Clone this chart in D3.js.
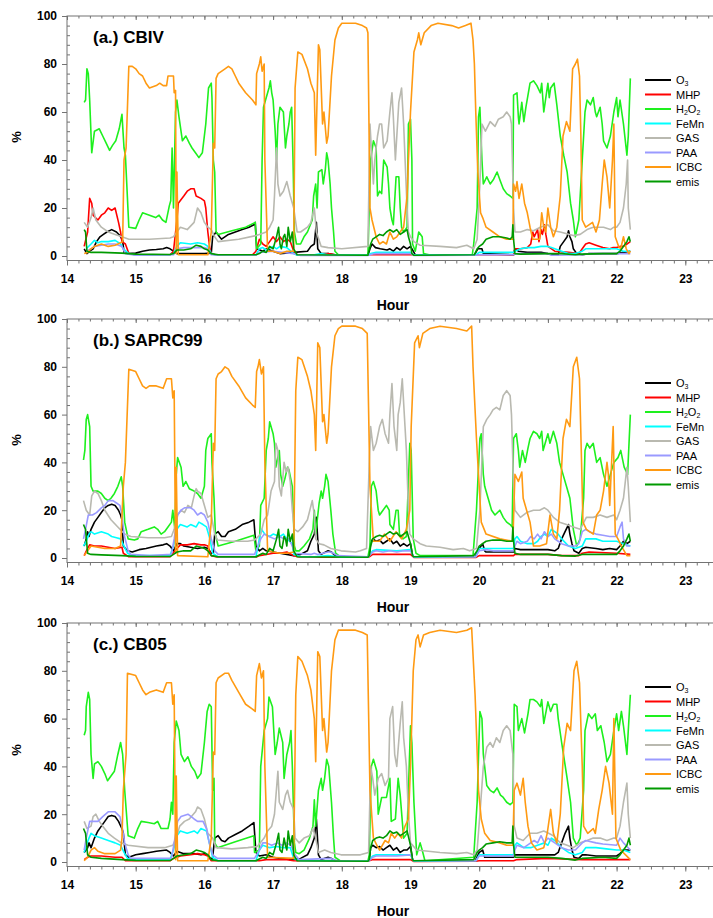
<!DOCTYPE html>
<html>
<head>
<meta charset="utf-8">
<script src="https://cdn.jsdelivr.net/npm/d3@7"></script>
<style>
  body { margin: 0; background: #fff; }
  svg { display: block; font-family: Arial, "Liberation Sans", sans-serif; }
</style>
</head>
<body>
<svg id="chart" width="713" height="918"></svg>
<script>
// Source contributions (%) by hour, one [hour, percent] list per species and mechanism.

// ---- (a.) CBIV ----
const cbivO3 = [[14.25,3],[14.29,1],[14.33,2],[14.38,3],[14.43,6],[14.48,8],[14.53,9],[14.58,10],[14.65,11],[14.72,10],[14.77,8.5],[14.81,6.5],[14.83,1.5],[14.9,1],[15.0,1.2],[15.1,2],[15.2,2.5],[15.3,2.7],[15.4,3],[15.45,3.5],[15.5,3],[15.55,2],[15.6,1],[15.8,1],[16.0,1],[16.1,1.2],[16.12,8],[16.17,10],[16.22,8],[16.25,7],[16.35,9],[16.45,10],[16.55,11],[16.65,12],[16.72,13],[16.74,14],[16.76,3],[16.85,2],[16.9,3],[17.0,2],[17.1,1],[17.3,1.5],[17.5,2],[17.55,4],[17.6,5],[17.63,14],[17.65,3],[17.7,1],[17.8,1],[17.9,0.5],[18.38,0.3],[18.41,3],[18.44,5],[18.49,3.5],[18.56,3],[18.66,2.5],[18.7,3],[18.75,2],[18.8,3.5],[18.85,2.5],[18.9,4],[18.95,3],[19.0,4],[19.04,2],[19.07,0.5],[19.93,0.5],[19.98,3],[20.04,3],[20.06,1],[20.5,0.5],[20.52,3],[20.57,2],[20.7,1.5],[20.9,1.5],[21.0,1],[21.15,0.5],[21.18,4],[21.23,6],[21.28,8],[21.3,10.5],[21.32,8],[21.35,6],[21.37,3],[21.42,1],[21.5,0.5],[21.6,1],[22.0,1],[22.1,1.5],[22.2,2]];
const cbivMHP = [[14.25,4],[14.3,10],[14.33,24],[14.36,22],[14.38,17],[14.45,15],[14.5,17],[14.55,18],[14.6,20],[14.65,19],[14.7,20],[14.75,14],[14.78,10],[14.8,6],[14.85,5],[14.9,1],[15.0,0.5],[15.5,0.5],[15.55,2],[15.6,15],[15.62,22],[15.7,25],[15.75,27],[15.8,28],[15.85,28],[15.88,25],[15.95,24],[16.0,23],[16.02,20],[16.05,10],[16.08,3],[16.1,1],[16.15,0.5],[16.7,0.5],[16.75,2],[16.8,7],[16.85,5],[16.9,4],[16.95,6],[17.0,8],[17.05,6],[17.1,8],[17.15,6],[17.2,7],[17.25,6],[17.3,2],[17.35,0.5],[17.7,0.5],[17.8,1],[17.9,0.5],[20.5,0.5],[20.52,3],[20.6,3],[20.7,3.5],[20.75,5],[20.78,10],[20.8,8],[20.85,11],[20.87,6],[20.9,11],[20.92,9],[20.95,13],[20.97,9],[21.0,4],[21.1,2],[21.3,1.5],[21.45,1],[21.5,3],[21.55,5],[21.6,5.5],[21.7,4.5],[21.8,3.5],[21.9,3],[21.95,3.5],[22.0,3.5],[22.05,4],[22.1,4],[22.15,5],[22.2,6]];
const cbivH2O2 = [[14.25,64],[14.27,65],[14.29,78],[14.31,76],[14.33,65],[14.36,43],[14.4,52],[14.47,53],[14.52,50],[14.57,47],[14.62,44],[14.66,46],[14.71,48],[14.76,53],[14.8,59],[14.83,45],[14.85,42],[14.9,12],[15.0,11.5],[15.05,15],[15.1,18],[15.2,17],[15.29,16],[15.34,17],[15.39,15],[15.44,14],[15.49,21],[15.51,23],[15.53,45],[15.55,20],[15.58,60],[15.6,65],[15.63,58],[15.68,48],[15.73,50],[15.78,47],[15.82,45],[15.87,43],[15.92,41],[15.97,43],[16.02,55],[16.06,70],[16.1,72],[16.11,66],[16.13,40],[16.15,35],[16.17,10],[16.2,9],[16.4,10.5],[16.6,12],[16.74,14],[16.76,3],[16.82,5],[16.84,40],[16.86,62],[16.94,70],[16.96,73],[16.98,68],[17.0,65],[17.03,52],[17.05,40],[17.07,55],[17.1,62],[17.15,60],[17.18,45],[17.2,50],[17.23,55],[17.25,60],[17.27,62],[17.29,40],[17.31,10],[17.34,5],[17.4,5],[17.45,8],[17.5,10],[17.57,15],[17.59,25],[17.62,30],[17.64,20],[17.66,35],[17.71,36],[17.73,30],[17.76,36],[17.78,43],[17.8,40],[17.83,30],[17.85,20],[17.88,10],[17.9,2],[17.95,0.5],[18.38,0.5],[18.39,10],[18.42,40],[18.46,48],[18.5,45],[18.52,25],[18.55,27],[18.58,26],[18.61,40],[18.66,37],[18.68,30],[18.7,20],[18.73,15],[18.75,13],[18.79,33],[18.83,33],[18.85,20],[18.87,12],[18.9,10],[18.95,12],[18.97,55],[19.0,57],[19.02,40],[19.03,5],[19.07,2],[19.12,10],[19.17,8],[19.19,1],[19.3,0.3],[19.9,0.5],[19.92,5],[19.97,20],[19.99,58],[20.01,62],[20.04,40],[20.06,30],[20.11,33],[20.16,30],[20.21,32],[20.26,35],[20.31,31],[20.35,28],[20.4,26],[20.45,25],[20.49,24],[20.5,67],[20.55,68],[20.57,58],[20.58,55],[20.62,64],[20.65,56],[20.68,62],[20.74,72],[20.79,73],[20.84,71],[20.89,68],[20.91,72],[20.94,60],[21.0,72],[21.02,66],[21.04,70],[21.09,72],[21.13,63],[21.18,50],[21.23,42],[21.28,35],[21.33,22],[21.37,15],[21.4,8],[21.45,15],[21.5,40],[21.54,60],[21.57,65],[21.62,63],[21.66,66],[21.69,60],[21.71,58],[21.76,62],[21.79,55],[21.81,48],[21.86,45],[21.91,50],[21.96,60],[22.0,66],[22.02,58],[22.05,65],[22.1,55],[22.15,42],[22.17,50],[22.2,74]];
const cbivFeMn = [[14.28,3],[14.35,5],[14.4,6.5],[14.45,5.5],[14.5,6],[14.6,6],[14.7,6.5],[14.78,5],[14.82,3],[14.9,1],[15.0,0.5],[15.5,0.5],[15.55,1],[15.6,4],[15.65,5.5],[15.8,5],[15.9,5.5],[16.0,5],[16.05,4],[16.1,1],[16.15,0.5],[16.75,0.5],[16.8,3],[16.85,3.5],[16.9,2.5],[17.0,4],[17.05,3],[17.1,4],[17.2,3.5],[17.3,1],[17.35,0.3],[17.6,0.5],[17.7,1],[17.8,0.5],[18.38,0.3],[18.42,1],[18.5,1.5],[19.0,1.5],[19.05,0.5],[19.95,0.5],[20.0,1.5],[20.5,1.5],[20.52,2],[20.6,3],[20.7,3.5],[20.8,3.5],[20.9,4],[21.0,4],[21.05,3.5],[21.1,3],[21.2,2],[21.3,1],[21.4,1],[21.5,2],[21.55,3],[21.7,3],[21.8,3],[22.0,3],[22.1,2],[22.2,2]];
const cbivGAS = [[14.25,14],[14.3,12],[14.35,16],[14.38,20],[14.42,15],[14.5,12],[14.6,10],[14.7,9],[14.8,8],[14.9,7],[15.2,7],[15.5,7.5],[15.55,8],[15.6,10],[15.65,12],[15.75,11],[15.85,14],[15.9,20],[15.95,18],[16.0,14],[16.05,12],[16.1,11],[16.15,8],[16.2,6],[16.5,7],[16.75,8.5],[16.8,9],[16.9,10],[16.95,12],[17.0,15],[17.02,25],[17.05,45],[17.07,30],[17.1,25],[17.15,27],[17.2,31],[17.25,25],[17.3,20],[17.35,10],[17.4,10],[17.5,12],[17.55,14],[17.6,20],[17.63,10],[17.7,4],[17.8,3.5],[18.0,3],[18.38,4],[18.41,55],[18.43,45],[18.46,30],[18.48,40],[18.52,50],[18.55,55],[18.58,55],[18.61,45],[18.66,48],[18.7,60],[18.73,68],[18.75,58],[18.78,40],[18.83,64],[18.87,70],[18.9,55],[18.95,20],[18.97,10],[19.0,8],[19.05,6],[19.14,4.5],[19.43,4],[19.67,3.5],[19.82,4.5],[19.92,3],[19.97,7],[20.01,30],[20.04,55],[20.09,52],[20.16,56],[20.23,54],[20.28,57],[20.35,58],[20.4,60],[20.45,58],[20.47,55],[20.5,20],[20.52,10],[20.6,10],[20.7,11],[20.79,10.5],[20.89,12],[21.0,13],[21.08,10.5],[21.18,10],[21.37,8.5],[21.47,9],[21.57,11],[21.66,12],[21.81,12],[21.91,11],[21.96,12],[22.0,12],[22.05,14],[22.1,20],[22.14,30],[22.16,40],[22.17,20],[22.2,11]];
const cbivPAA = [[14.28,2],[14.35,3],[14.4,4],[14.5,4.5],[14.6,5],[14.7,5],[14.8,4],[14.85,1],[15.0,0.3],[15.55,0.5],[15.6,3],[15.7,3.5],[15.9,3.5],[16.0,3.5],[16.05,3],[16.1,0.5],[16.75,0.3],[16.8,1.5],[17.0,2],[17.3,1],[17.4,0.2],[18.38,0.2],[18.45,0.8],[18.5,1],[19.0,1],[19.05,0.2],[19.95,0.3],[20.0,0.5],[20.5,0.5],[20.55,1],[21.0,1],[21.05,0.3],[21.5,0.5],[21.6,1],[22.2,1]];
const cbivICBC = [[14.25,1],[14.3,1.5],[14.35,3],[14.4,4],[14.5,5],[14.6,4],[14.7,4.5],[14.78,5.5],[14.81,6],[14.83,40],[14.86,45],[14.9,79],[14.95,79],[15.0,78],[15.05,76],[15.1,75],[15.15,72],[15.2,70],[15.3,71],[15.35,72],[15.4,71],[15.45,71],[15.47,75],[15.55,75],[15.56,68],[15.58,69],[15.59,1],[15.6,35],[15.62,0.5],[16.05,0.5],[16.1,10],[16.13,47],[16.15,45],[16.17,74],[16.2,76],[16.3,78],[16.35,79],[16.4,78],[16.45,75],[16.5,72],[16.6,68],[16.7,65],[16.75,63],[16.76,76],[16.8,80],[16.82,83],[16.84,77],[16.87,80],[16.88,40],[16.92,2],[17.0,2],[17.1,1],[17.2,2],[17.3,2],[17.32,70],[17.36,85],[17.42,84],[17.5,78],[17.55,72],[17.6,68],[17.62,42],[17.66,88],[17.68,86],[17.72,55],[17.74,60],[17.78,47],[17.8,50],[17.85,75],[17.9,90],[17.95,95],[18.0,97],[18.2,97],[18.3,96],[18.36,95],[18.38,93],[18.41,20],[18.44,15],[18.5,8],[18.55,5],[18.6,6],[18.65,5],[18.7,10],[18.75,7],[18.8,8],[18.85,10],[18.9,12],[18.95,25],[18.97,40],[19.0,60],[19.05,85],[19.1,90],[19.12,93],[19.15,88],[19.2,93],[19.3,96],[19.4,97],[19.6,96],[19.7,95],[19.8,96],[19.88,97],[19.91,90],[19.93,80],[19.95,60],[19.98,35],[20.02,18],[20.05,16],[20.1,12],[20.2,10],[20.3,8],[20.4,7],[20.49,7],[20.5,30],[20.53,27],[20.55,31],[20.58,24],[20.62,30],[20.66,22],[20.7,18],[20.74,12],[20.78,7],[20.88,7],[20.91,18],[20.94,12],[20.97,10],[21.0,20],[21.04,12],[21.08,8],[21.13,12],[21.18,25],[21.22,50],[21.27,56],[21.32,52],[21.36,78],[21.4,80],[21.43,82],[21.46,75],[21.48,50],[21.5,15],[21.55,12],[21.65,14],[21.7,10],[21.75,15],[21.79,30],[21.82,40],[21.86,33],[21.9,20],[21.94,40],[21.96,55],[21.98,8],[22.03,4],[22.06,3],[22.1,8],[22.14,3],[22.18,1],[22.2,2]];
const cbivEmis = [[14.25,11],[14.27,10],[14.29,2],[14.35,1.5],[14.5,1.5],[14.8,1.2],[14.9,1],[15.0,0.8],[15.5,0.6],[15.55,1],[15.6,2.5],[15.7,2.5],[15.8,3],[15.88,4.5],[15.95,4],[16.0,3],[16.05,2.5],[16.1,1],[16.2,0.5],[16.75,0.5],[16.8,1],[16.85,2],[16.9,1.5],[16.95,4],[17.0,3],[17.05,8],[17.08,12],[17.1,5],[17.12,3],[17.15,8],[17.17,9],[17.2,4],[17.22,12],[17.25,6],[17.28,10],[17.3,3],[17.35,0.5],[18.38,0.3],[18.42,5],[18.45,7],[18.5,8],[18.55,9],[18.6,8.5],[18.65,10],[18.7,11],[18.75,10],[18.8,11],[18.85,9],[18.9,10],[18.95,11],[18.97,8],[19.0,5],[19.02,1],[19.05,0.3],[19.93,0.5],[19.97,3],[20.0,4],[20.05,5],[20.1,7],[20.15,7.5],[20.2,8],[20.3,8],[20.4,7.5],[20.45,7],[20.48,8],[20.49,13],[20.5,7],[20.52,1],[20.6,0.8],[21.0,1],[21.2,1],[21.4,0.5],[21.5,0.8],[21.8,1],[22.0,1],[22.05,2],[22.1,4],[22.15,6],[22.18,8],[22.2,6]];

// ---- (b.) SAPRC99 ----
const sapO3 = [[14.25,5],[14.28,8],[14.3,11],[14.32,9],[14.35,12],[14.4,15],[14.45,17],[14.5,19],[14.55,21],[14.6,22],[14.65,22.5],[14.7,22],[14.75,20],[14.78,18],[14.8,16],[14.82,5],[14.88,3],[14.95,2.5],[15.05,3.5],[15.15,4],[15.3,5],[15.4,5.5],[15.45,6],[15.5,5],[15.55,3],[15.6,6],[15.65,6],[15.7,5],[15.8,4.5],[15.9,4],[16.0,4.5],[16.05,4],[16.1,2],[16.13,2],[16.15,10],[16.2,11],[16.25,9],[16.3,9],[16.35,11],[16.45,12],[16.55,14],[16.65,15],[16.72,16],[16.75,5],[16.8,3],[16.85,4],[16.9,3],[17.0,2.5],[17.1,2],[17.2,1.5],[17.3,1],[17.4,1.5],[17.5,3],[17.55,7],[17.6,10],[17.63,17],[17.66,3],[17.7,1.5],[17.8,3],[17.85,2.5],[17.9,1],[18.0,0.3],[18.38,0.3],[18.4,1],[18.42,6],[18.45,8],[18.5,7],[18.55,7.5],[18.6,6],[18.65,7],[18.7,8],[18.75,6],[18.8,7],[18.85,5],[18.9,6],[18.95,5],[19.0,6],[19.03,1],[19.06,0.3],[19.93,0.3],[19.95,1],[20.0,4],[20.05,6],[20.08,3],[20.1,2.5],[20.5,2.5],[20.52,4],[20.6,3.5],[20.8,3.5],[21.0,3.5],[21.1,3],[21.15,4],[21.2,8],[21.25,11],[21.3,14],[21.32,10],[21.35,6],[21.38,3],[21.45,2],[21.5,4],[21.55,4.5],[21.7,4],[21.8,3.5],[21.9,4],[22.0,3.5],[22.05,5],[22.1,7],[22.15,6],[22.2,7]];
const sapMHP = [[14.25,1],[14.3,4],[14.33,5.5],[14.4,5],[14.5,5],[14.6,4.5],[14.7,4],[14.8,4.5],[14.82,2],[14.9,0.5],[15.5,0.5],[15.6,4],[15.65,5.5],[15.75,5.5],[15.85,6],[15.95,5.5],[16.0,5.5],[16.05,5],[16.1,1],[16.2,0.3],[16.75,0.3],[16.8,1],[16.9,1.5],[17.0,2],[17.1,2],[17.2,2.5],[17.3,1],[17.4,0.3],[18.38,0.3],[18.4,0.5],[18.45,1.5],[19.0,1.5],[19.05,0.2],[19.95,0.2],[20.0,1],[20.5,1],[20.52,1.5],[21.0,1.5],[21.2,1],[21.45,1],[21.5,2],[21.6,2.5],[22.0,2],[22.2,1.5]];
const sapH2O2 = [[14.24,41],[14.26,45],[14.28,58],[14.3,60],[14.33,55],[14.35,30],[14.38,28],[14.45,28],[14.5,27],[14.55,25],[14.6,24],[14.64,25],[14.69,27],[14.74,30],[14.79,34],[14.81,30],[14.84,15],[14.89,8],[14.98,7.5],[15.03,8],[15.08,11],[15.18,12],[15.27,13],[15.32,12],[15.37,10],[15.42,11],[15.47,13],[15.52,15],[15.54,20],[15.57,12],[15.59,35],[15.61,42],[15.66,38],[15.69,30],[15.73,32],[15.78,29],[15.85,28],[15.9,27],[15.95,25],[16.0,30],[16.02,45],[16.05,50],[16.1,52],[16.11,40],[16.14,25],[16.16,10],[16.2,5],[16.45,7],[16.72,9.5],[16.75,3],[16.8,5],[16.82,22],[16.87,25],[16.9,45],[16.93,50],[16.95,57],[17.0,52],[17.02,48],[17.04,38],[17.09,45],[17.11,35],[17.14,30],[17.17,33],[17.21,38],[17.23,37],[17.28,30],[17.31,5],[17.33,3],[17.38,3],[17.45,5],[17.53,8],[17.58,12],[17.6,20],[17.62,10],[17.67,23],[17.7,28],[17.72,25],[17.75,30],[17.77,35],[17.8,32],[17.84,20],[17.87,10],[17.91,2],[17.98,0.5],[18.38,0.5],[18.41,5],[18.43,30],[18.46,32],[18.5,28],[18.53,20],[18.55,18],[18.6,20],[18.65,22],[18.69,20],[18.7,14],[18.75,12],[18.79,20],[18.82,20],[18.84,10],[18.89,8],[18.94,9],[18.99,48],[19.01,45],[19.04,8],[19.08,2],[19.14,1],[19.91,1],[19.96,20],[20.01,50],[20.03,52],[20.06,35],[20.08,30],[20.13,25],[20.18,20],[20.23,18],[20.3,20],[20.35,17],[20.4,15],[20.45,14],[20.48,13],[20.5,50],[20.54,52],[20.57,45],[20.59,38],[20.63,45],[20.67,40],[20.71,46],[20.74,50],[20.79,53],[20.84,52],[20.88,50],[20.91,53],[20.93,45],[21.0,52],[21.03,48],[21.08,53],[21.13,48],[21.17,40],[21.22,35],[21.27,30],[21.32,25],[21.37,12],[21.42,5],[21.47,8],[21.52,25],[21.54,45],[21.57,48],[21.61,46],[21.66,48],[21.71,40],[21.76,42],[21.81,35],[21.86,30],[21.91,35],[21.96,40],[22.02,42],[22.06,45],[22.11,38],[22.16,35],[22.2,60]];
const sapFeMn = [[14.24,5],[14.28,7],[14.32,10],[14.35,11],[14.4,10],[14.5,11],[14.6,10],[14.65,9],[14.72,8.5],[14.78,8],[14.83,5],[14.88,2],[14.95,1],[15.5,1],[15.55,5],[15.6,12],[15.65,14],[15.75,13],[15.8,14],[15.88,13],[15.92,15],[15.98,14],[16.03,13],[16.08,8],[16.12,2],[16.2,0.5],[16.75,0.5],[16.8,8],[16.83,12],[16.88,10],[16.95,9],[17.0,10],[17.1,9],[17.15,10],[17.2,8],[17.28,6],[17.3,1.5],[17.4,0.5],[17.6,0.5],[17.8,1],[18.0,0.3],[18.38,0.3],[18.4,1],[18.45,3],[18.5,3.5],[18.8,3],[19.0,3.5],[19.05,0.3],[19.95,0.5],[20.0,4],[20.1,4],[20.5,4],[20.52,8],[20.55,9],[20.6,7],[20.7,6],[20.8,6],[20.85,7],[20.9,9],[20.95,10],[21.0,9],[21.05,12],[21.1,11],[21.15,10],[21.2,8],[21.3,5],[21.4,4],[21.5,5],[21.55,8],[21.7,8],[21.8,7],[22.0,7],[22.1,6],[22.2,5]];
const sapGAS = [[14.24,24],[14.28,20],[14.33,18],[14.36,26],[14.4,28],[14.45,27],[14.5,24],[14.55,20],[14.64,16],[14.74,13],[14.84,10],[14.93,9],[15.18,8.5],[15.42,8.5],[15.52,9],[15.56,12],[15.61,18],[15.66,20],[15.71,19],[15.76,22],[15.81,21],[15.85,26],[15.88,29],[15.9,28],[15.95,27],[16.0,22],[16.02,20],[16.05,17],[16.1,18],[16.15,10],[16.19,7.5],[16.4,7],[16.63,7],[16.73,7.5],[16.82,10],[16.87,16],[16.92,18],[16.94,22],[16.97,28],[17.02,32],[17.04,48],[17.07,45],[17.09,30],[17.12,26],[17.14,33],[17.16,40],[17.19,36],[17.22,38],[17.25,32],[17.28,20],[17.31,12],[17.36,11],[17.43,13],[17.5,16],[17.57,24],[17.6,18],[17.62,8],[17.67,6],[17.74,5.5],[17.84,4],[17.99,3],[18.2,2.5],[18.27,3],[18.36,4],[18.4,40],[18.42,55],[18.46,45],[18.5,48],[18.55,55],[18.59,58],[18.63,52],[18.68,48],[18.7,60],[18.73,73],[18.76,55],[18.8,45],[18.82,60],[18.85,65],[18.88,75],[18.92,55],[18.94,45],[18.97,20],[18.99,10],[19.04,8],[19.14,6],[19.23,5],[19.43,4.5],[19.62,3.5],[19.77,4],[19.86,3],[19.96,4],[20.01,20],[20.06,55],[20.11,58],[20.16,60],[20.2,62],[20.25,63],[20.3,62],[20.35,68],[20.4,70],[20.45,68],[20.47,60],[20.5,30],[20.52,20],[20.6,17],[20.69,19],[20.79,20],[20.88,20],[20.95,21],[21.0,20],[21.08,17],[21.17,15],[21.27,14],[21.37,13],[21.47,12],[21.56,17],[21.66,17],[21.76,18],[21.86,17],[21.96,18],[22.0,16],[22.05,20],[22.1,25],[22.15,38],[22.17,30],[22.2,15]];
const sapPAA = [[14.24,8],[14.27,12],[14.31,18],[14.37,18],[14.43,19],[14.5,21],[14.55,22],[14.6,24],[14.67,24],[14.72,23],[14.77,22],[14.8,18],[14.83,10],[14.89,3],[14.93,1.5],[15.2,1],[15.52,1.5],[15.56,8],[15.61,18],[15.66,20],[15.71,21],[15.8,21],[15.85,20],[15.9,18],[15.95,19],[16.0,18],[16.05,15],[16.1,8],[16.15,3],[16.2,1.5],[16.73,1.5],[16.78,5],[16.82,8],[16.87,10],[16.94,9],[17.02,8],[17.09,9],[17.16,8],[17.23,8],[17.28,5],[17.31,2],[17.55,1.5],[17.6,2],[17.65,1.5],[17.8,2.5],[17.84,2.5],[17.94,1],[18.38,0.5],[18.4,1],[18.45,2.5],[18.5,3],[18.6,2.5],[18.7,3],[18.8,2.5],[18.9,3],[19.0,3],[19.05,0.5],[19.95,0.5],[20.0,3],[20.1,3.5],[20.2,3],[20.5,3],[20.52,5],[20.55,7],[20.6,6],[20.7,7],[20.75,9],[20.8,8],[20.85,10],[20.9,8],[20.95,11],[21.0,9],[21.05,10],[21.1,8],[21.15,7],[21.2,6],[21.3,5],[21.4,5],[21.45,6],[21.5,11],[21.55,12],[21.6,11],[21.7,10],[21.8,9.5],[21.9,9],[22.0,9],[22.05,13],[22.08,15],[22.1,8],[22.15,5],[22.2,5]];
const sapICBC = [[14.25,1],[14.3,3],[14.35,5],[14.45,4.5],[14.55,4],[14.7,4],[14.78,5],[14.82,30],[14.85,40],[14.9,79],[15.0,78],[15.05,75],[15.1,72],[15.15,71],[15.2,72],[15.3,72],[15.4,71],[15.45,75],[15.52,75],[15.54,67],[15.56,70],[15.58,2],[15.59,38],[15.61,1],[16.05,0.5],[16.1,15],[16.13,48],[16.15,45],[16.17,75],[16.2,77],[16.25,78],[16.3,80],[16.35,79],[16.4,76],[16.5,72],[16.6,67],[16.7,64],[16.74,63],[16.76,78],[16.78,80],[16.8,83],[16.83,77],[16.86,80],[16.88,40],[16.92,3],[17.0,2.5],[17.1,2],[17.2,2],[17.3,2.5],[17.33,70],[17.36,84],[17.42,83],[17.5,76],[17.55,70],[17.6,60],[17.62,45],[17.65,90],[17.68,88],[17.72,57],[17.74,60],[17.78,48],[17.8,52],[17.85,80],[17.9,93],[17.95,96],[18.0,97],[18.2,97],[18.3,96],[18.37,94],[18.41,30],[18.46,7],[18.55,7],[18.62,10],[18.7,7],[18.79,11],[18.87,8],[18.94,12],[18.99,20],[19.01,55],[19.06,90],[19.11,93],[19.13,88],[19.18,94],[19.28,96],[19.43,97],[19.67,96],[19.82,95],[19.89,97],[19.91,80],[19.96,50],[20.01,25],[20.03,15],[20.1,10],[20.3,8],[20.49,7],[20.52,35],[20.57,32],[20.62,36],[20.64,25],[20.69,20],[20.74,15],[20.79,5],[20.88,5],[20.98,6],[21.03,18],[21.08,10],[21.13,8],[21.17,20],[21.22,50],[21.27,58],[21.32,55],[21.37,80],[21.42,84],[21.46,75],[21.49,40],[21.51,15],[21.56,12],[21.66,10],[21.71,18],[21.76,20],[21.81,28],[21.86,40],[21.88,35],[21.9,22],[21.95,55],[21.98,10],[22.02,8],[22.07,5],[22.15,1],[22.2,1]];
const sapEmis = [[14.24,14],[14.27,12],[14.3,2],[14.35,1.5],[14.5,1.3],[14.8,1],[15.0,0.7],[15.5,0.6],[15.55,1.5],[15.6,2.5],[15.7,3],[15.8,3],[15.88,5],[15.95,4.5],[16.0,4],[16.05,3],[16.1,1],[16.2,0.5],[16.75,0.5],[16.85,2],[16.9,1.5],[16.95,4],[17.0,3],[17.05,8],[17.08,12],[17.1,5],[17.13,4],[17.16,9],[17.18,8],[17.2,5],[17.22,12],[17.25,7],[17.28,10],[17.3,3],[17.35,0.5],[18.38,0.3],[18.4,1],[18.42,5],[18.45,8],[18.5,9],[18.55,9.5],[18.6,9],[18.65,10],[18.7,11],[18.75,10],[18.8,10.5],[18.85,9],[18.9,10],[18.95,11],[19.0,6],[19.03,1],[19.05,0.5],[19.92,1],[19.97,3],[20.0,5],[20.05,6],[20.1,7],[20.2,7.5],[20.3,7.5],[20.4,7],[20.48,7],[20.49,13],[20.5,7],[20.52,2],[20.6,1.5],[21.0,1.5],[21.2,1],[21.4,0.8],[21.5,1.5],[21.8,1.5],[22.0,1.5],[22.05,3],[22.1,5],[22.15,8],[22.18,10],[22.2,7]];

// ---- (c.) CB05 ----
const cb05O3 = [[14.25,4],[14.3,6],[14.32,8],[14.35,6],[14.4,10],[14.45,13],[14.5,15],[14.55,17],[14.6,19],[14.65,19.5],[14.7,19],[14.75,17],[14.8,14],[14.82,12],[14.85,3],[14.9,2],[15.0,3],[15.1,3.5],[15.2,4],[15.3,4.5],[15.45,5],[15.5,4],[15.55,2.5],[15.6,4.5],[15.65,4],[15.7,3.5],[15.85,3.5],[15.95,3],[16.0,3.5],[16.05,3],[16.1,1],[16.12,2],[16.15,10],[16.2,11],[16.25,9],[16.3,8.5],[16.35,10],[16.45,11.5],[16.55,13],[16.65,15],[16.72,16.5],[16.75,4],[16.8,2.5],[16.9,3],[17.0,2],[17.1,1.5],[17.3,1],[17.4,1.5],[17.5,3],[17.55,6],[17.6,10],[17.63,18],[17.66,3],[17.7,1],[17.8,2],[17.85,1.5],[17.9,0.5],[18.38,0.3],[18.4,1],[18.42,6],[18.45,7],[18.5,6],[18.55,6.5],[18.6,5],[18.65,6],[18.7,7],[18.75,5],[18.8,6],[18.85,4],[18.9,5],[18.95,5],[19.0,6.5],[19.03,1],[19.06,0.3],[19.93,0.3],[19.95,1],[20.0,4],[20.05,5],[20.08,2],[20.5,2],[20.52,3],[20.6,3],[20.8,3],[21.0,3],[21.1,3],[21.15,4],[21.2,8],[21.25,12],[21.3,15],[21.32,10],[21.35,5],[21.38,2],[21.45,1.5],[21.5,3],[21.55,3],[21.7,2.5],[21.9,2.5],[22.0,2.5],[22.05,3.5],[22.1,5],[22.2,5]];
const cb05MHP = [[14.25,1],[14.3,2],[14.35,2.5],[14.5,2.5],[14.7,2],[14.8,2],[14.85,0.5],[15.5,0.5],[15.55,1.5],[15.65,2.5],[15.8,3],[15.9,3.5],[16.0,3],[16.05,2.5],[16.1,0.5],[16.8,0.5],[16.9,1],[17.2,1],[17.3,0.5],[18.38,0.3],[18.45,1],[19.0,1],[19.05,0.2],[19.95,0.3],[20.0,0.5],[20.5,0.5],[20.55,1],[21.0,1.5],[21.5,1],[22.0,1],[22.2,1]];
const cb05H2O2 = [[14.25,53],[14.27,55],[14.28,65],[14.31,71],[14.33,68],[14.35,45],[14.38,35],[14.4,41],[14.45,42],[14.5,40],[14.55,37],[14.59,34],[14.64,36],[14.69,38],[14.74,45],[14.78,50],[14.81,45],[14.84,30],[14.89,11],[14.98,10],[15.03,14],[15.08,17],[15.18,16.5],[15.27,16],[15.32,17],[15.37,14],[15.47,14],[15.5,18],[15.52,25],[15.54,20],[15.56,50],[15.59,59],[15.63,55],[15.66,45],[15.71,42],[15.76,44],[15.81,40],[15.86,38],[15.9,35],[15.95,37],[16.0,50],[16.04,63],[16.07,66],[16.1,65],[16.12,30],[16.14,35],[16.15,8],[16.19,6],[16.45,8.5],[16.72,11],[16.73,4],[16.8,5],[16.82,40],[16.87,55],[16.92,60],[16.94,69],[16.99,65],[17.03,45],[17.06,50],[17.09,56],[17.14,50],[17.16,35],[17.2,45],[17.24,50],[17.26,55],[17.28,40],[17.31,8],[17.33,4],[17.38,3.5],[17.45,5],[17.53,10],[17.58,15],[17.6,26],[17.62,15],[17.66,30],[17.7,35],[17.72,30],[17.75,35],[17.78,43],[17.81,40],[17.85,25],[17.88,10],[17.9,2],[17.98,0.5],[18.38,0.5],[18.4,3],[18.43,40],[18.46,43],[18.51,38],[18.53,20],[18.58,27],[18.65,27],[18.7,35],[18.72,17],[18.78,18],[18.82,35],[18.85,28],[18.9,10],[18.95,12],[19.0,57],[19.02,50],[19.05,25],[19.09,3],[19.14,8],[19.17,5],[19.21,0.5],[19.92,2],[19.97,25],[20.01,63],[20.04,60],[20.06,45],[20.11,32],[20.16,30],[20.21,29],[20.26,31],[20.31,28],[20.35,27],[20.4,25],[20.45,24],[20.49,25],[20.51,66],[20.55,65],[20.57,55],[20.62,60],[20.66,54],[20.71,62],[20.74,68],[20.79,68],[20.84,67],[20.89,65],[20.91,68],[20.94,58],[21.0,67],[21.04,63],[21.08,66],[21.13,66],[21.15,60],[21.2,50],[21.28,35],[21.33,25],[21.37,10],[21.42,7],[21.47,10],[21.52,30],[21.54,55],[21.59,62],[21.64,60],[21.69,62],[21.72,55],[21.77,57],[21.82,50],[21.86,42],[21.91,45],[21.96,55],[22.0,62],[22.03,55],[22.07,63],[22.1,57],[22.15,45],[22.17,55],[22.2,70]];
const cb05FeMn = [[14.25,4],[14.28,7],[14.32,10],[14.35,12],[14.4,11],[14.5,10],[14.55,9.5],[14.6,9],[14.7,8],[14.78,7],[14.83,4],[14.88,1.5],[15.0,1],[15.5,1],[15.55,5],[15.6,11],[15.65,13],[15.75,12],[15.85,13],[15.9,12],[15.95,14],[16.03,13],[16.08,7],[16.12,2],[16.2,0.5],[16.75,0.5],[16.8,5],[16.85,7],[16.95,6],[17.05,6.5],[17.15,6],[17.25,6],[17.3,1.5],[17.4,0.5],[17.8,0.5],[18.38,0.3],[18.4,1],[18.45,2.5],[18.5,3],[18.8,3],[19.0,3],[19.05,0.3],[19.95,0.5],[20.0,3],[20.5,3],[20.52,7],[20.55,8],[20.65,6],[20.75,6],[20.85,7],[20.95,8],[21.0,7],[21.05,10],[21.1,9],[21.2,6],[21.3,4],[21.4,3],[21.5,4],[21.55,6],[21.7,6],[21.85,5.5],[22.0,5],[22.1,5],[22.2,4]];
const cb05GAS = [[14.25,17],[14.29,14],[14.35,15],[14.38,19],[14.42,20],[14.47,17],[14.52,15],[14.6,12],[14.69,10],[14.79,8],[14.89,7],[15.18,6],[15.42,6],[15.54,7],[15.59,10],[15.64,15],[15.71,17],[15.78,18],[15.87,21],[15.9,23],[15.95,22],[16.0,18],[16.05,12],[16.12,10],[16.17,6],[16.4,5.5],[16.63,6],[16.77,6.5],[16.87,10],[16.92,13],[16.98,15],[17.02,20],[17.07,38],[17.09,25],[17.14,22],[17.18,28],[17.21,30],[17.25,25],[17.3,22],[17.32,10],[17.38,8],[17.45,10],[17.53,11],[17.58,14],[17.62,10],[17.66,4],[17.75,5],[17.84,4],[17.99,3],[18.27,3],[18.39,4],[18.42,40],[18.45,35],[18.48,28],[18.53,35],[18.58,37],[18.63,32],[18.68,35],[18.7,60],[18.74,65],[18.77,45],[18.8,40],[18.85,58],[18.88,67],[18.9,52],[18.94,40],[18.97,20],[19.0,8],[19.09,5],[19.43,4],[19.67,3.5],[19.82,4],[19.92,3],[19.97,5],[20.01,20],[20.06,40],[20.11,48],[20.16,50],[20.2,48],[20.25,52],[20.3,50],[20.35,55],[20.4,57],[20.45,55],[20.49,45],[20.51,15],[20.55,10],[20.64,9],[20.74,12],[20.84,12],[20.94,13],[21.01,12],[21.08,11],[21.18,8],[21.28,7],[21.37,6],[21.47,8],[21.57,9],[21.66,10],[21.76,10],[21.86,9],[21.96,10],[22.0,10],[22.05,15],[22.1,25],[22.15,33],[22.17,20],[22.2,10]];
const cb05PAA = [[14.25,5],[14.28,10],[14.33,17],[14.38,17],[14.45,17],[14.52,19],[14.6,21],[14.7,21],[14.77,19],[14.8,15],[14.84,8],[14.89,3],[14.93,1.5],[15.52,1.5],[15.56,8],[15.61,17],[15.66,19],[15.76,20],[15.85,18],[15.9,17],[15.98,17],[16.03,14],[16.07,8],[16.12,3],[16.19,1.5],[16.73,1.5],[16.8,5],[16.85,8],[16.9,8],[16.98,7],[17.06,8],[17.13,7],[17.19,8],[17.26,7],[17.32,3],[17.38,1],[17.84,1.5],[17.94,0.5],[18.38,0.3],[18.4,0.5],[18.45,2],[18.5,2.5],[18.8,2.5],[19.0,3],[19.05,0.5],[19.95,0.5],[20.0,2.5],[20.5,2.5],[20.52,5],[20.55,7],[20.65,6],[20.75,8],[20.8,9],[20.85,8],[20.9,11],[20.95,8],[21.0,10],[21.05,9],[21.1,8],[21.2,6],[21.3,5],[21.4,5],[21.5,8],[21.55,9],[21.7,8],[21.8,7.5],[22.0,7],[22.05,10],[22.1,8],[22.2,5]];
const cb05ICBC = [[14.25,0.5],[14.3,2],[14.35,5],[14.4,6],[14.45,4.5],[14.55,3.5],[14.7,3.5],[14.78,5],[14.8,10],[14.82,30],[14.86,45],[14.88,79],[15.0,78],[15.05,75],[15.1,72],[15.15,70],[15.2,71],[15.3,72],[15.4,71],[15.45,75],[15.52,75],[15.54,66],[15.56,70],[15.58,1],[15.59,36],[15.61,0.5],[16.05,0.5],[16.1,10],[16.13,46],[16.15,45],[16.17,75],[16.2,77],[16.3,79],[16.35,79],[16.4,76],[16.5,71],[16.6,66],[16.7,64],[16.74,63],[16.76,78],[16.8,83],[16.83,77],[16.86,80],[16.88,40],[16.92,2],[17.3,1.5],[17.33,70],[17.36,86],[17.42,84],[17.5,78],[17.55,72],[17.6,60],[17.62,42],[17.65,88],[17.68,86],[17.72,55],[17.74,60],[17.78,46],[17.8,50],[17.85,80],[17.9,93],[17.95,97],[18.0,97],[18.2,97],[18.3,96],[18.37,95],[18.41,30],[18.46,10],[18.51,7],[18.55,5],[18.63,9],[18.68,8],[18.72,12],[18.77,10],[18.82,12],[18.87,10],[18.92,15],[18.97,18],[19.0,40],[19.04,80],[19.08,93],[19.11,95],[19.14,90],[19.19,95],[19.28,96],[19.43,97],[19.67,96],[19.82,97],[19.89,98],[19.94,70],[19.99,30],[20.03,18],[20.08,12],[20.16,9],[20.3,8],[20.4,7],[20.49,7],[20.51,30],[20.55,33],[20.6,28],[20.64,35],[20.67,25],[20.71,15],[20.76,8],[20.84,5],[20.94,6],[20.99,12],[21.04,22],[21.08,12],[21.13,8],[21.18,20],[21.23,48],[21.28,58],[21.33,55],[21.38,80],[21.42,84],[21.46,75],[21.5,40],[21.52,15],[21.58,12],[21.66,14],[21.69,12],[21.74,22],[21.79,30],[21.84,40],[21.89,33],[21.94,20],[21.96,60],[21.99,10],[22.06,5],[22.13,3],[22.2,1]];
const cb05Emis = [[14.24,14],[14.27,12],[14.3,3],[14.35,2],[14.5,1.5],[14.8,1],[15.0,0.7],[15.5,0.6],[15.55,1.5],[15.6,2.5],[15.7,3],[15.8,3.5],[15.88,5],[15.95,4.5],[16.0,4],[16.05,3],[16.1,1],[16.2,0.5],[16.75,0.5],[16.85,2],[16.9,1.5],[16.95,4],[17.0,3],[17.05,8],[17.08,12],[17.1,5],[17.13,4],[17.16,10],[17.18,7],[17.2,5],[17.22,13],[17.25,7],[17.28,11],[17.3,3],[17.35,0.5],[18.38,0.3],[18.4,1],[18.42,6],[18.45,9],[18.5,10],[18.55,10.5],[18.6,10],[18.65,11],[18.7,13],[18.75,12],[18.8,12.5],[18.85,11],[18.9,12],[18.95,13],[19.0,7],[19.03,1],[19.05,0.5],[19.92,1],[19.97,4],[20.0,5],[20.05,6],[20.1,7.5],[20.2,8],[20.3,8.5],[20.4,8],[20.48,8],[20.49,15],[20.5,7],[20.52,2],[20.6,2],[21.0,2],[21.2,1.5],[21.4,0.8],[21.5,1.5],[21.8,2],[22.0,1.5],[22.05,3],[22.1,5],[22.15,7],[22.18,10],[22.2,7]];

// Series names, legend labels and axis ticks
const seriesKeys = ["O3", "MHP", "H2O2", "FeMn", "GAS", "PAA", "ICBC", "emis"];
const seriesColors = ["#000000", "#ff0000", "#1ef01e", "#00ffff", "#b9b9b0", "#9a9aff", "#ff9a12", "#009a00"];
const panelTitles = ["(a.) CBIV", "(b.) SAPRC99", "(c.) CB05"];
const panelSeries = [
  [cbivO3, cbivMHP, cbivH2O2, cbivFeMn, cbivGAS, cbivPAA, cbivICBC, cbivEmis],
  [sapO3, sapMHP, sapH2O2, sapFeMn, sapGAS, sapPAA, sapICBC, sapEmis],
  [cb05O3, cb05MHP, cb05H2O2, cb05FeMn, cb05GAS, cb05PAA, cb05ICBC, cb05Emis]
];
const hourTicks = [14, 15, 16, 17, 18, 19, 20, 21, 22, 23];
const percentTicks = [0, 20, 40, 60, 80, 100];

// Layout
const svg = d3.select("#chart");
const plotLeft = 67, plotRight = 754;
const panelTops = [16, 319, 623];
const panelZeros = [256, 558, 862];
const frameColor = "#737373";

const x = d3.scaleLinear().domain([14, 24]).range([plotLeft, plotRight]);
const minorHours = d3.range(14, 24.001, 1 / 6);
const minorPercents = d3.range(0, 100.001, 4).filter(v => v % 20 !== 0);

panelTitles.forEach((title, p) => {
  const top = panelTops[p], zero = panelZeros[p];
  const bottom = zero + 4.5;
  const y = d3.scaleLinear().domain([0, 100]).range([zero, top]);
  const g = svg.append("g");

  // frame
  g.append("rect")
    .attr("x", plotLeft).attr("y", top)
    .attr("width", plotRight - plotLeft).attr("height", bottom - top)
    .attr("fill", "none").attr("stroke", frameColor).attr("stroke-width", 1);

  // bottom axis: minor then major ticks with labels
  const bMinor = g.append("g").attr("transform", `translate(0,${bottom})`)
    .call(d3.axisBottom(x).tickValues(minorHours).tickSize(3).tickFormat(""));
  const bMajor = g.append("g").attr("transform", `translate(0,${bottom})`)
    .call(d3.axisBottom(x).tickValues(hourTicks).tickSize(5).tickPadding(9).tickFormat(d3.format("d")));
  // top axis ticks point inward
  const tMinor = g.append("g").attr("transform", `translate(0,${top})`)
    .call(d3.axisTop(x).tickValues(minorHours).tickSize(-2.5).tickFormat(""));
  const tMajor = g.append("g").attr("transform", `translate(0,${top})`)
    .call(d3.axisTop(x).tickValues(hourTicks).tickSize(-4).tickFormat(""));
  // left axis: major outward with labels, minor inward
  const lMajor = g.append("g").attr("transform", `translate(${plotLeft},0)`)
    .call(d3.axisLeft(y).tickValues(percentTicks).tickSize(5).tickPadding(5).tickFormat(d3.format("d")));
  const lMinor = g.append("g").attr("transform", `translate(${plotLeft},0)`)
    .call(d3.axisLeft(y).tickValues(minorPercents).tickSize(-3).tickFormat(""));

  [bMinor, bMajor, tMinor, tMajor, lMajor, lMinor].forEach(a => {
    a.select(".domain").remove();
    a.selectAll(".tick line").attr("stroke", frameColor);
    a.selectAll(".tick text")
      .attr("fill", "#000").attr("font-size", 12).attr("font-weight", "bold")
      .attr("font-family", "Arial, 'Liberation Sans', sans-serif");
  });

  // axis titles
  g.append("text")
    .attr("x", 393).attr("y", bottom + 49)
    .attr("text-anchor", "middle").attr("font-size", 14).attr("font-weight", "bold")
    .text("Hour");
  const yMid = [137, 440, 750][p];
  g.append("text")
    .attr("transform", `translate(21,${yMid}) rotate(-90)`)
    .attr("text-anchor", "middle").attr("font-size", 13).attr("font-weight", "bold")
    .text("%");

  // panel title
  g.append("text")
    .attr("x", 93).attr("y", top + 26.5)
    .attr("font-size", 17).attr("font-weight", "bold")
    .text(title);

  // series lines
  const line = d3.line().x(d => x(d[0])).y(d => y(d[1])).curve(d3.curveLinear);
  panelSeries[p].forEach((values, i) => {
    g.append("path")
      .datum(values)
      .attr("d", line)
      .attr("fill", "none")
      .attr("stroke", seriesColors[i])
      .attr("stroke-width", 1.6)
      .attr("stroke-linejoin", "round");
  });

  // legend
  const lg = g.append("g").attr("transform", `translate(645,${top + 64})`);
  seriesKeys.forEach((key, i) => {
    const row = lg.append("g").attr("transform", `translate(0,${i * 14.5})`);
    row.append("line").attr("x1", 0).attr("x2", 26).attr("y1", 0).attr("y2", 0)
      .attr("stroke", seriesColors[i]).attr("stroke-width", 2);
    const t = row.append("text").attr("x", 31).attr("y", 4).attr("font-size", 11).attr("fill", "#000");
    if (key === "O3") {
      t.append("tspan").text("O");
      t.append("tspan").attr("font-size", 7).attr("dy", 2).text("3");
    } else if (key === "H2O2") {
      t.append("tspan").text("H");
      t.append("tspan").attr("font-size", 7).attr("dy", 2).text("2");
      t.append("tspan").attr("dy", -2).text("O");
      t.append("tspan").attr("font-size", 7).attr("dy", 2).text("2");
    } else {
      t.text(key);
    }
  });
});
</script>
</body>
</html>
